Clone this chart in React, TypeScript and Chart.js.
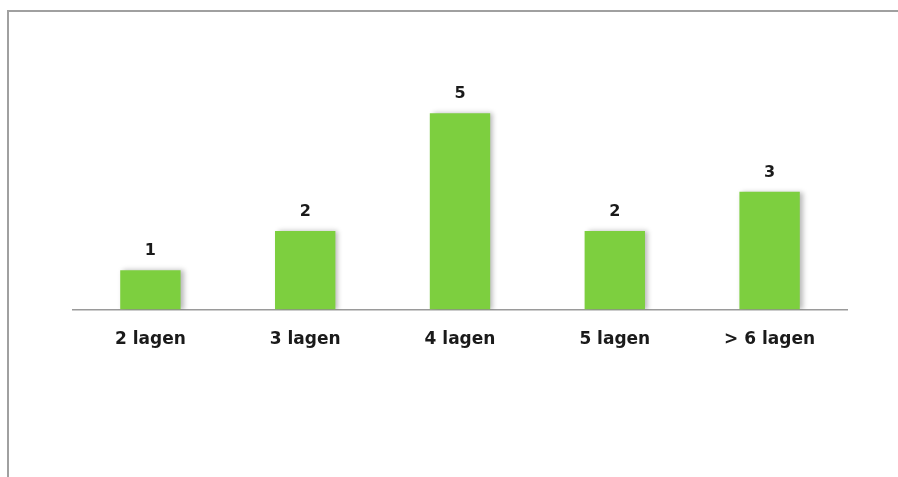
import React, { useEffect, useRef } from "react";
import { Chart, registerables } from "chart.js";

Chart.register(...registerables);

const categories = ["2 lagen", "3 lagen", "4 lagen", "5 lagen", "> 6 lagen"];
const values = [1, 2, 5, 2, 3];

const FONT = "'DejaVu Sans', sans-serif";

const shadowPlugin = {
  id: "barShadow",
  beforeDatasetsDraw(chart: any) {
    const ctx = chart.ctx;
    ctx.save();
    ctx.shadowColor = "rgba(0,0,0,0.28)";
    ctx.shadowBlur = 5;
    ctx.shadowOffsetX = 3;
    ctx.shadowOffsetY = 0;
  },
  afterDatasetsDraw(chart: any) {
    chart.ctx.restore();
  },
};

const valueLabelPlugin = {
  id: "valueLabels",
  afterDatasetsDraw(chart: any) {
    const ctx = chart.ctx;
    const meta = chart.getDatasetMeta(0);
    ctx.save();
    ctx.font = `bold 16px ${FONT}`;
    ctx.fillStyle = "#1a1a1a";
    ctx.textAlign = "center";
    ctx.textBaseline = "alphabetic";
    meta.data.forEach((el: any, i: number) => {
      ctx.fillText(String(chart.data.datasets[0].data[i]), el.x, el.y - 15);
    });
    ctx.restore();
  },
};

export default function App() {
  const ref = useRef<HTMLCanvasElement | null>(null);
  useEffect(() => {
    document.body.style.overflow = "hidden";
    if (!ref.current) return;
    const chart = new Chart(ref.current, {
      type: "bar",
      data: {
        labels: categories,
        datasets: [
          {
            data: values,
            backgroundColor: "#7dcf3f",
            borderWidth: 0,
            barPercentage: 0.39,
            categoryPercentage: 1,
          },
        ],
      },
      options: {
        animation: false,
        responsive: true,
        maintainAspectRatio: false,
        layout: { padding: { left: 73, right: 51, top: 74, bottom: 107 } },
        plugins: { legend: { display: false }, tooltip: { enabled: false } },
        scales: {
          x: {
            grid: { display: false, drawTicks: false },
            border: { display: true, color: "#9a9a9a", width: 1.5 },
            ticks: {
              color: "#1a1a1a",
              padding: 20,
              font: { family: FONT, size: 17, weight: "bold" },
            },
          },
          y: { display: false, min: 0, max: 6 },
        },
      },
      plugins: [shadowPlugin, valueLabelPlugin],
    });
    return () => chart.destroy();
  }, []);
  return (
    <div style={{ position: "fixed", left: 0, top: 0, width: 898, height: 477, background: "#fff" }}>
      <div
        style={{
          position: "absolute",
          left: 7,
          top: 10,
          right: 0,
          bottom: 0,
          borderLeft: "2px solid #a0a0a0",
          borderTop: "2px solid #a0a0a0",
        }}
      />
      <div style={{ position: "absolute", left: 0, top: 0, width: 898, height: 477 }}>
        <canvas ref={ref} />
      </div>
    </div>
  );
}
